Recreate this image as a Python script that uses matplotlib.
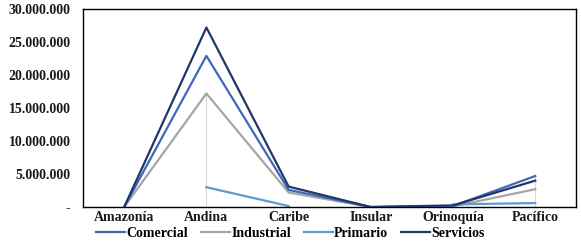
import numpy as np
import matplotlib.pyplot as plt
from matplotlib.ticker import FuncFormatter

# regiones y valores por sector
regiones = ['Amazonía', 'Andina', 'Caribe', 'Insular', 'Orinoquía', 'Pacífico']
comercial = [0, 22900000, 2600000, 0, 150000, 4700000]
industrial = [0, 17200000, 2200000, 0, 100000, 2700000]
primario = [np.nan, 3000000, 150000, np.nan, 400000, 600000]
servicios = [0, 27200000, 3100000, 0, 250000, 4000000]

colores = {'Comercial': '#4068B8', 'Industrial': '#A5A5A5',
           'Primario': '#5B9BD5', 'Servicios': '#1F3766'}

plt.rcParams['font.family'] = ['Liberation Serif', 'DejaVu Serif']

fig = plt.figure(figsize=(5.81, 2.43), dpi=100)
ax = fig.add_axes([0.143, 0.148, 0.849, 0.815])

x = np.arange(len(regiones))

# lineas verticales de referencia
ax.vlines(1, 0, industrial[1], color='#D9D9D9', lw=0.8, zorder=1)
ax.vlines(2, 0, primario[2], color='#D9D9D9', lw=0.8, zorder=1)
ax.vlines(5, 0, comercial[5], color='#D9D9D9', lw=0.8, zorder=1)

ax.plot(x, comercial, color=colores['Comercial'], lw=1.6, label='Comercial', zorder=3)
ax.plot(x, industrial, color=colores['Industrial'], lw=1.6, label='Industrial', zorder=2)
ax.plot(x, primario, color=colores['Primario'], lw=1.6, label='Primario', zorder=2)
ax.plot(x, servicios, color=colores['Servicios'], lw=1.6, label='Servicios', zorder=4)

ax.set_xlim(-0.5, 5.5)
ax.set_ylim(0, 30000000)
ax.set_yticks(np.arange(0, 30000001, 5000000))

def fmt(v, pos):
    if v == 0:
        return '-'
    return f'{int(v):,}'.replace(',', '.')

ax.yaxis.set_major_formatter(FuncFormatter(fmt))
ax.set_xticks(x)
ax.set_xticklabels(regiones)
ax.tick_params(axis='both', length=0, labelsize=10, colors='#1A1A1A')
ax.tick_params(axis='x', pad=3)
ax.tick_params(axis='y', pad=9)
for lab in ax.get_yticklabels() + ax.get_xticklabels():
    lab.set_fontweight('bold')

for s in ax.spines.values():
    s.set_linewidth(1.0)
    s.set_color('black')

leg = fig.legend(loc='center', bbox_to_anchor=(0.5, 0.038), ncol=4, frameon=False,
                 handlelength=2.1, handletextpad=0.1, columnspacing=0.9,
                 prop={'weight': 'bold', 'size': 10})

fig.savefig('out.png', dpi=100)
